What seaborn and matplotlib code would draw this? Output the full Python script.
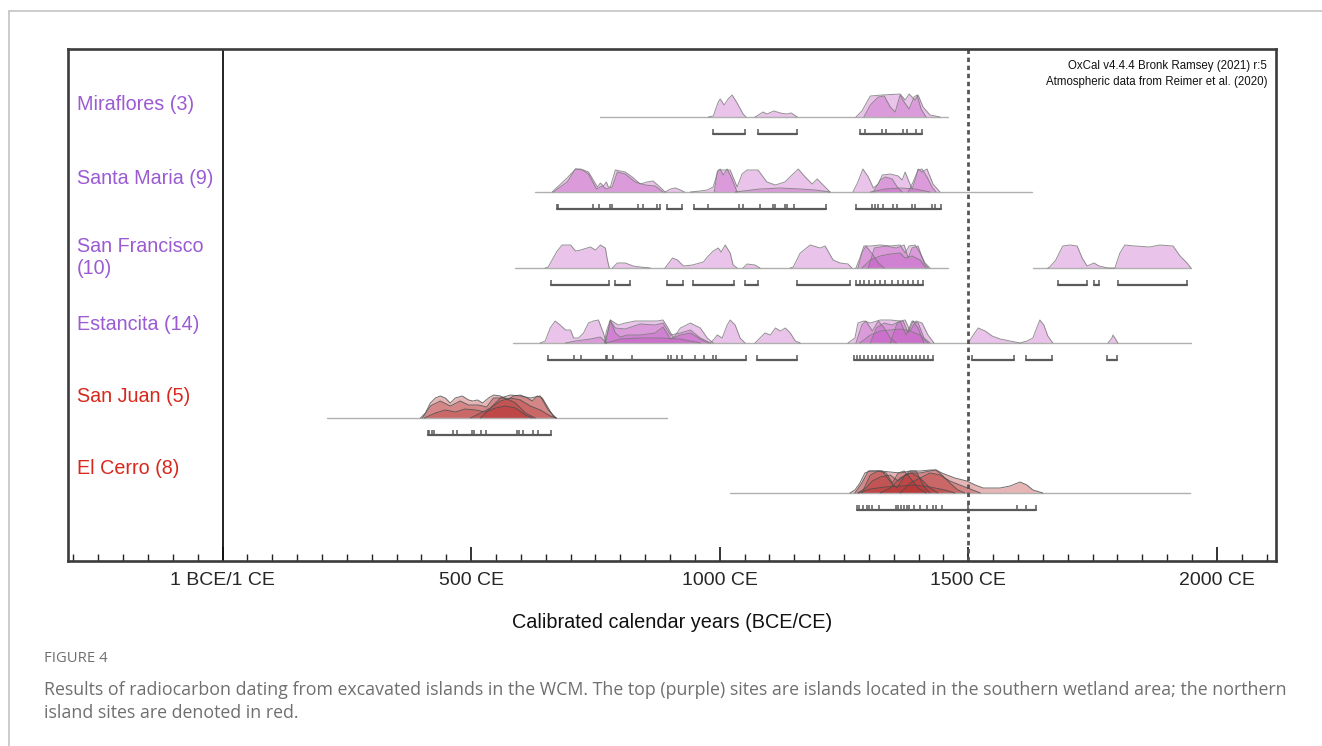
import matplotlib
matplotlib.use("Agg")
import matplotlib.pyplot as plt
from matplotlib.lines import Line2D
from matplotlib.ticker import MultipleLocator, FixedLocator
import seaborn as sns
import numpy as np

# ---------------- DATA (calendar years, relative probability heights) ----------------
site_names = ["Miraflores (3)", "Santa Maria (9)", "San Francisco\n(10)",
              "Estancita (14)", "San Juan (5)", "El Cerro (8)"]
site_group = ["south", "south", "south", "south", "north", "north"]

major_ticks = [0, 500, 1000, 1500, 2000]
major_labels = ["1 BCE/1 CE", "500 CE", "1000 CE", "1500 CE", "2000 CE"]
contact_year = 1500

# baseline spans (start, end) per site
mir_span = [(760, 1459)]
sm_span = [(629, 1628)]
sf_span = [(589, 1459), (1630, 1948)]
est_span = [(585, 1948)]
sj_span = [(211, 894)]
ec_span = [(1021, 1946)]

# probability curves: (years, heights)
mir_curves = [
    ([977, 987, 997, 1001, 1009, 1017, 1025, 1035, 1047, 1053],
     [0, 1, 15, 18, 12, 18, 22, 14, 3, 0]),
    ([1071, 1081, 1087, 1095, 1109, 1122, 1134, 1144, 1156],
     [0, 3, 5, 3, 6, 4, 3, 4, 0]),
    ([1274, 1286, 1303, 1327, 1363, 1373, 1381, 1393, 1399, 1409, 1423, 1443],
     [0, 6, 21, 22, 23, 17, 23, 17, 22, 10, 2, 0]),
    ([1290, 1303, 1319, 1331, 1343, 1353, 1363, 1371, 1381, 1391, 1397, 1405, 1415],
     [0, 12, 20, 21, 10, 5, 22, 15, 8, 20, 22, 8, 0]),
]
sm_curves = [
    ([663, 693, 710, 720, 736, 754, 760, 766, 772, 776, 780, 790, 810, 824, 840, 854, 866, 884, 890],
     [0, 14, 23, 23, 20, 5, 9, 6, 10, 5, 5, 22, 20, 15, 8, 10, 11, 3, 0]),
    ([665, 693, 710, 724, 736, 752, 764, 772, 784, 794, 810, 830, 850, 870, 886],
     [0, 10, 23, 22, 18, 3, 6, 3, 5, 20, 18, 10, 7, 6, 0]),
    ([890, 901, 911, 921, 929], [0, 3, 4, 2, 0]),
    ([941, 961, 975, 987, 997, 1009, 1021, 1035, 1045, 1055, 1077, 1095, 1112, 1131, 1158, 1172, 1186, 1196, 1212, 1222],
     [0, 1, 2, 5, 22, 22, 22, 5, 18, 22, 22, 10, 7, 10, 23, 15, 8, 13, 5, 0]),
    ([989, 995, 1001, 1007, 1015, 1023, 1035], [0, 20, 23, 17, 23, 15, 0]),
    ([1031, 1081, 1122, 1162, 1192, 1222], [0, 3, 4, 3, 2, 0]),
    ([1268, 1278, 1288, 1299, 1309, 1319, 1327, 1343, 1359, 1367, 1373, 1381, 1387, 1395, 1399, 1407, 1417, 1429, 1443],
     [0, 10, 23, 15, 4, 8, 17, 18, 16, 12, 20, 10, 3, 15, 23, 20, 23, 8, 0]),
    ([1309, 1323, 1333, 1347, 1357, 1367], [0, 12, 15, 13, 5, 0]),
    ([1379, 1389, 1399, 1407, 1417, 1427, 1435], [0, 10, 22, 23, 15, 5, 0]),
    ([1303, 1333, 1363, 1393, 1423], [0, 3, 4, 3, 0]),
]
sf_curves = [
    ([649, 655, 673, 683, 700, 710, 720, 740, 750, 760, 770, 774, 778],
     [0, 1, 17, 23, 23, 17, 18, 21, 18, 23, 20, 8, 0]),
    ([784, 794, 810, 826, 840, 860], [0, 5, 5, 2, 1, 0]),
    ([890, 905, 915, 927, 945, 967, 977, 987, 997, 1003, 1011, 1021, 1027, 1035],
     [0, 10, 8, 2, 3, 6, 12, 17, 20, 16, 23, 15, 3, 0]),
    ([1047, 1055, 1071, 1081], [0, 4, 3, 0]),
    ([1142, 1148, 1162, 1182, 1202, 1212, 1228, 1242, 1258, 1266],
     [0, 1, 15, 23, 20, 22, 8, 5, 4, 0]),
    ([1274, 1282, 1290, 1303, 1323, 1343, 1363, 1373, 1381, 1393, 1403, 1413, 1423],
     [0, 10, 22, 22, 23, 22, 23, 15, 22, 23, 15, 5, 0]),
    ([1278, 1286, 1294, 1307, 1319, 1331], [0, 15, 22, 14, 5, 0]),
    ([1299, 1311, 1335, 1355, 1371, 1379, 1387, 1399, 1411, 1419],
     [0, 20, 22, 20, 23, 10, 20, 22, 5, 0]),
    ([1286, 1303, 1323, 1343, 1363, 1373, 1387, 1403, 1415],
     [0, 8, 12, 14, 15, 10, 12, 8, 0]),
    ([1660, 1664, 1676, 1690, 1705, 1719, 1729, 1739, 1753, 1763, 1781, 1795, 1805, 1815, 1835, 1865, 1885, 1912, 1926, 1940, 1948],
     [0, 1, 8, 22, 23, 22, 10, 2, 5, 2, 0, 0, 15, 23, 22, 21, 23, 22, 12, 5, 0]),
]
est_curves = [
    ([639, 649, 659, 669, 679, 690, 700, 706, 716, 726, 736, 746, 756, 766, 772],
     [0, 2, 15, 22, 18, 13, 13, 5, 5, 10, 20, 22, 23, 10, 0]),
    ([690, 710, 740, 760, 772], [0, 2, 4, 6, 0]),
    ([768, 772, 780, 796, 810, 830, 860, 874, 886, 896, 907, 921, 941, 961, 975, 987],
     [0, 12, 23, 18, 20, 22, 22, 22, 23, 15, 5, 15, 20, 15, 5, 0]),
    ([770, 780, 790, 810, 840, 870, 886, 901, 921, 941, 961, 981],
     [0, 22, 15, 14, 19, 18, 20, 8, 10, 13, 5, 0]),
    ([770, 780, 790, 800, 814, 840, 870, 886, 901, 921, 941, 961, 977],
     [0, 23, 10, 6, 8, 8, 10, 16, 4, 8, 10, 4, 0]),
    ([772, 800, 840, 880, 921, 961], [0, 4, 5, 5, 4, 0]),
    ([981, 989, 995, 1005, 1015, 1021, 1031, 1041, 1051], [0, 4, 8, 5, 18, 23, 18, 5, 0]),
    ([1071, 1081, 1091, 1102, 1112, 1122, 1132, 1142, 1152, 1162],
     [0, 5, 10, 8, 15, 12, 15, 10, 2, 0]),
    ([1258, 1272, 1278, 1290, 1303, 1323, 1343, 1363, 1373, 1383, 1395, 1407, 1419, 1431],
     [0, 5, 20, 22, 20, 23, 23, 22, 23, 12, 22, 20, 8, 0]),
    ([1274, 1286, 1294, 1307, 1319, 1331, 1343, 1355], [0, 18, 22, 12, 22, 15, 5, 0]),
    ([1303, 1315, 1331, 1347, 1363, 1375, 1387, 1399, 1411, 1423],
     [0, 15, 20, 18, 22, 8, 22, 20, 5, 0]),
    ([1282, 1303, 1323, 1343, 1363, 1383, 1403, 1419], [0, 8, 12, 13, 14, 12, 8, 0]),
    ([1343, 1357, 1369, 1379, 1389, 1399, 1411], [0, 20, 22, 10, 22, 15, 0]),
    ([1500, 1510, 1520, 1534, 1548, 1564, 1584, 1604, 1618, 1630, 1640, 1644, 1652, 1660, 1670],
     [0, 8, 15, 12, 7, 4, 2, 0, 2, 5, 18, 23, 18, 7, 0]),
    ([1781, 1789, 1791, 1795, 1801], [0, 5, 8, 5, 0]),
]
sj_curves = [
    ([398, 408, 418, 428, 438, 448, 458, 468, 482, 495, 503, 513, 523, 535, 545, 559, 573, 585, 599, 613, 623, 633, 643, 655, 665, 671],
     [0, 5, 15, 20, 22, 20, 15, 20, 22, 18, 17, 18, 15, 20, 23, 22, 18, 22, 23, 20, 17, 22, 20, 10, 2, 0]),
    ([402, 418, 438, 458, 478, 495, 515, 531, 545, 569, 589, 609, 629],
     [0, 12, 17, 12, 17, 13, 13, 11, 20, 20, 15, 5, 0]),
    ([406, 428, 448, 468, 488, 509, 529, 549, 569, 589, 609, 623],
     [0, 5, 8, 6, 9, 8, 6, 10, 12, 10, 3, 0]),
    ([519, 539, 559, 579, 599, 619, 639, 655, 671], [0, 10, 20, 23, 22, 20, 22, 8, 0]),
    ([499, 519, 539, 559, 579, 599, 619, 639, 659, 671], [0, 5, 10, 17, 20, 18, 12, 8, 2, 0]),
]
ec_curves = [
    ([1262, 1272, 1282, 1292, 1303, 1323, 1343, 1363, 1383, 1403, 1423, 1435, 1447, 1457, 1473, 1497, 1514, 1530, 1564, 1584, 1604, 1618, 1630, 1650],
     [0, 3, 10, 20, 22, 22, 21, 20, 22, 22, 23, 23, 20, 18, 15, 12, 8, 5, 5, 7, 11, 8, 3, 0]),
    ([1272, 1286, 1299, 1315, 1327, 1339, 1349, 1357, 1363, 1373, 1383, 1395, 1403, 1413, 1423],
     [0, 10, 22, 22, 22, 14, 8, 5, 10, 18, 22, 22, 14, 5, 0]),
    ([1278, 1294, 1307, 1323, 1343, 1359, 1373, 1387, 1403, 1423, 1439],
     [0, 5, 12, 16, 18, 12, 18, 20, 15, 5, 0]),
    ([1323, 1343, 1363, 1383, 1403, 1423, 1435, 1447, 1463, 1479, 1493],
     [0, 5, 15, 20, 20, 22, 23, 18, 10, 3, 0]),
    ([1278, 1303, 1333, 1363, 1393, 1423, 1453, 1473], [0, 4, 6, 7, 8, 6, 3, 0]),
    ([1363, 1383, 1403, 1423, 1443, 1463, 1483, 1504, 1524], [0, 10, 15, 20, 18, 12, 8, 4, 0]),
    ([1286, 1303, 1319, 1335, 1347, 1359, 1371, 1383, 1399, 1415],
     [0, 18, 22, 20, 10, 20, 22, 15, 5, 0]),
]

# HPD range brackets (start, end) and the range end-point marks
mir_brackets = [(987, 1051), (1077, 1156), (1282, 1407)]
mir_marks = [987, 1051, 1077, 1156, 1282, 1292, 1327, 1335, 1369, 1377, 1395, 1407]
sm_brackets = [(673, 880), (894, 925), (949, 1214), (1274, 1445)]
sm_marks = [673, 675, 746, 758, 780, 784, 836, 846, 874, 880, 894, 925,
            949, 977, 1039, 1047, 1081, 1108, 1112, 1132, 1136, 1150, 1214,
            1274, 1307, 1313, 1319, 1329, 1349, 1357, 1387, 1393, 1427, 1433, 1445]
sf_brackets = [(661, 778), (790, 820), (894, 927), (947, 1029), (1051, 1077),
               (1156, 1262), (1274, 1409), (1680, 1739), (1753, 1763), (1801, 1940)]
sf_marks = [661, 778, 790, 820, 894, 927, 947, 1029, 1051, 1077, 1156, 1262,
            1274, 1282, 1290, 1300, 1313, 1323, 1333, 1347, 1359, 1369, 1379, 1389, 1399, 1409,
            1680, 1739, 1753, 1763, 1801, 1940]
est_brackets = [(655, 1053), (1075, 1156), (1270, 1429), (1508, 1592), (1616, 1668), (1779, 1799)]
est_marks = [655, 707, 720, 772, 774, 786, 824, 896, 901, 915, 925, 951, 969, 987, 993, 1053,
             1075, 1156,
             1270, 1276, 1282, 1290, 1299, 1307, 1315, 1323, 1331, 1339, 1347, 1355, 1363,
             1371, 1379, 1387, 1395, 1403, 1411, 1419, 1429,
             1508, 1592, 1616, 1668, 1779, 1799]
sj_brackets = [(414, 661)]
sj_marks = [414, 416, 422, 426, 464, 472, 501, 505, 519, 529, 593, 597, 605, 625, 635, 661]
ec_brackets = [(1276, 1636)]
ec_marks = [1276, 1280, 1288, 1296, 1300, 1307, 1321, 1355, 1359, 1365, 1371, 1377, 1381,
            1391, 1403, 1417, 1429, 1435, 1447, 1500, 1598, 1616, 1636]

all_spans = [mir_span, sm_span, sf_span, est_span, sj_span, ec_span]
all_curves = [mir_curves, sm_curves, sf_curves, est_curves, sj_curves, ec_curves]
all_brackets = [mir_brackets, sm_brackets, sf_brackets, est_brackets, sj_brackets, ec_brackets]
all_marks = [mir_marks, sm_marks, sf_marks, est_marks, sj_marks, ec_marks]

# ---------------- LAYOUT / STYLE ----------------
W, H = 1322, 746
row_base = [117, 192, 268, 343, 418, 493]      # vertical positions (px from top)
label_y = [104, 178, 257, 324, 397, 469]
bracket_off = 17
mark_h = 5

colors = {
    "south": dict(label="#9a5bd3", fill="#c050c0", alpha=0.34, edge="#777777"),
    "north": dict(label="#d8281c", fill="#b83030", alpha=0.35, edge="#4a4a4a"),
}

sns.set_theme(style="white")
plt.rcParams["font.family"] = ["Liberation Sans", "DejaVu Sans"]

fig = plt.figure(figsize=(W / 100, H / 100), dpi=100)
ax_l, ax_r, ax_t, ax_b = 67.5, 1276, 49, 561
ax = fig.add_axes([ax_l / W, 1 - ax_b / H, (ax_r - ax_l) / W, (ax_b - ax_t) / H])
ax.set_xlim(-312, 2119)
ax.set_ylim(ax_b, ax_t)

for i in range(len(site_names)):
    st = colors[site_group[i]]
    base = row_base[i]
    for (s, e) in all_spans[i]:
        sns.lineplot(x=[s, e], y=[base, base], ax=ax, color="#b0b0b0", lw=1.0,
                     estimator=None, sort=False)
    for yrs, hs in all_curves[i]:
        yrs = np.asarray(yrs, float)
        ys = base - np.asarray(hs, float)
        ax.fill_between(yrs, base, ys, color=st["fill"], alpha=st["alpha"], lw=0)
        sns.lineplot(x=yrs, y=ys, ax=ax, color=st["edge"], lw=0.7, alpha=0.8,
                     estimator=None, sort=False)
    by = base + bracket_off
    for (s, e) in all_brackets[i]:
        sns.lineplot(x=[s, e], y=[by, by], ax=ax, color="#5a5a5a", lw=1.6,
                     estimator=None, sort=False)
    for m in all_marks[i]:
        ax.plot([m, m], [by, by - mark_h], color="#5a5a5a", lw=1.1, solid_capstyle="butt")
    ax.text(0.008, label_y[i], site_names[i], transform=ax.get_yaxis_transform(),
            color=st["label"], fontsize=14.2, ha="left", va="center", linespacing=1.2)

ax.axvline(0, color="#111111", lw=1.3)
ax.axvline(contact_year, color="#555555", lw=2.0, linestyle=(0, (1.6, 1.3)))

# axes styling
for sp in ax.spines.values():
    sp.set_visible(True)
    sp.set_color("#3c3c3c")
    sp.set_linewidth(1.9)
ax.xaxis.set_major_locator(FixedLocator(major_ticks))
ax.set_xticklabels(major_labels)
ax.xaxis.set_minor_locator(MultipleLocator(50))
ax.tick_params(axis="x", which="major", direction="in", length=10, width=1.3,
               color="#222222", labelsize=14, pad=8, bottom=True, top=False)
ax.tick_params(axis="x", which="minor", direction="in", length=5, width=1.0,
               color="#222222", bottom=True, top=False)
ax.set_yticks([])
ax.set_xlabel("Calibrated calendar years (BCE/CE)", fontsize=14.3, labelpad=17.5, color="#111111")
ax.set_ylabel("")

ax.text(0.9926, 0.967, "OxCal v4.4.4 Bronk Ramsey (2021) r:5", transform=ax.transAxes,
        ha="right", va="center", fontsize=8.3, color="#111111")
ax.text(0.9926, 0.935, "Atmospheric data from Reimer et al. (2020)", transform=ax.transAxes,
        ha="right", va="center", fontsize=8.3, color="#111111")

# page frame
fig.add_artist(Line2D([9 / W, 1], [1 - 10.5 / H, 1 - 10.5 / H], color="#c4c4c4", lw=1.2))
fig.add_artist(Line2D([9 / W, 9 / W], [0, 1 - 10.5 / H], color="#c4c4c4", lw=1.2))

cap_font = ["Open Sans", "DejaVu Sans"]
fig.text(44 / W, 1 - 658 / H, "FIGURE 4", family=cap_font, fontsize=10.7,
         color="#6f6f6f", ha="left", va="center")
fig.text(44 / W, 1 - 690 / H,
         "Results of radiocarbon dating from excavated islands in the WCM. The top (purple) sites are islands "
         "located in the southern wetland area; the northern",
         family=cap_font, fontsize=12.8, color="#6f6f6f", ha="left", va="center")
fig.text(44 / W, 1 - 713 / H, "island sites are denoted in red.",
         family=cap_font, fontsize=12.8, color="#6f6f6f", ha="left", va="center")

fig.savefig("out.png", dpi=100)
